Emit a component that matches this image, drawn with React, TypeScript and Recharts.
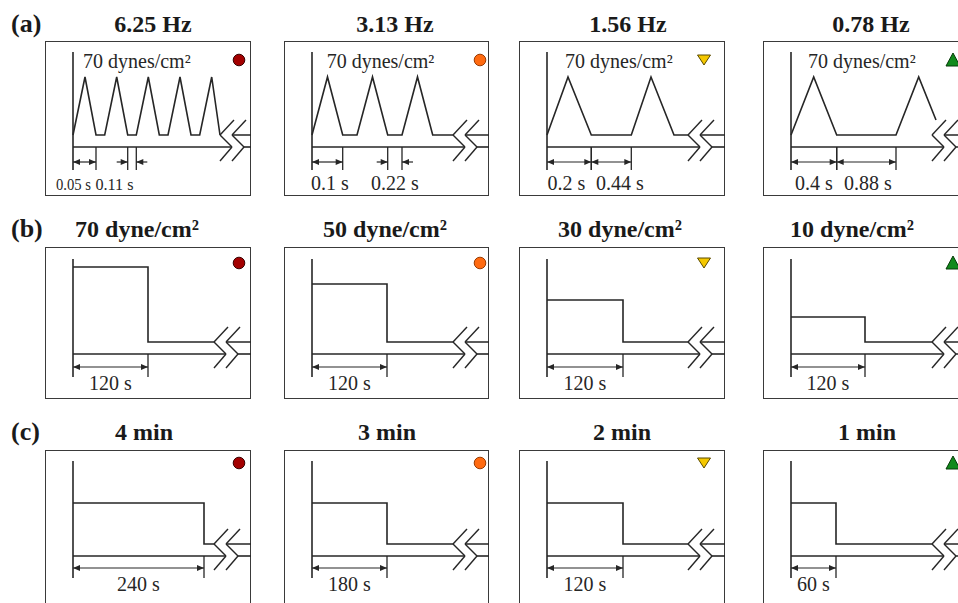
import React from 'react';
import { LineChart, Line, XAxis, YAxis, ReferenceLine, ReferenceDot } from 'recharts';

const FONT = '"Liberation Serif", "Times New Roman", Times, serif';
const INK = '#262626';

// ---------- text ----------
const rowLabels = ['(a)', '(b)', '(c)'];
const titlesA = ['6.25 Hz', '3.13 Hz', '1.56 Hz', '0.78 Hz'];
const titlesB = ['70 dyne/cm²', '50 dyne/cm²', '30 dyne/cm²', '10 dyne/cm²'];
const titlesC = ['4 min', '3 min', '2 min', '1 min'];
const noteA = '70 dynes/cm²';

// ---------- series (schematic time units, schematic stress units) ----------
type Pt = { t: number; v: number | null };
const waveA1: Pt[] = [
  { t: 0, v: 12 }, { t: 12, v: 70 }, { t: 23, v: 12 }, { t: 31.7, v: 12 },
  { t: 43.7, v: 70 }, { t: 54.7, v: 12 }, { t: 63.3, v: 12 }, { t: 75.3, v: 70 },
  { t: 86.3, v: 12 }, { t: 95, v: 12 }, { t: 107, v: 70 }, { t: 118, v: 12 },
  { t: 126.7, v: 12 }, { t: 138.7, v: 70 }, { t: 147, v: 12 }, { t: 153, v: null },
  { t: 159, v: 12 }, { t: 178, v: 12 },
];
const waveA2: Pt[] = [
  { t: 0, v: 12 }, { t: 15.5, v: 70 }, { t: 30.7, v: 12 }, { t: 45, v: 12 },
  { t: 60.5, v: 70 }, { t: 75.7, v: 12 }, { t: 90, v: 12 }, { t: 105.5, v: 70 },
  { t: 120.7, v: 12 }, { t: 141, v: 12 }, { t: 147, v: null }, { t: 153, v: 12 }, { t: 178, v: 12 },
];
const waveA3: Pt[] = [
  { t: 0, v: 12 }, { t: 21, v: 70 }, { t: 44.3, v: 12 }, { t: 84.3, v: 12 },
  { t: 104, v: 70 }, { t: 127, v: 12 }, { t: 141, v: 12 }, { t: 147, v: null },
  { t: 153, v: 12 }, { t: 178, v: 12 },
];
const waveA4: Pt[] = [
  { t: 0, v: 12 }, { t: 22.7, v: 70 }, { t: 45.7, v: 12 }, { t: 105, v: 12 },
  { t: 127.7, v: 70 }, { t: 145, v: 27 }, { t: 148, v: null }, { t: 153, v: 12 }, { t: 178, v: 12 },
];

const levelsB = [87, 70, 54, 37];
const stepB = [75, 75, 76, 74];
const levelC = 53;
const stepC = [131, 75, 76, 45];
const REST = 12;

const mkStep = (level: number, step: number): Pt[] => [
  { t: 0, v: level }, { t: step, v: level }, { t: step, v: REST }, { t: 141, v: REST },
  { t: 147, v: null }, { t: 153, v: REST }, { t: 178, v: REST },
];

// dimension annotations
type Dim = { a: number; b: number; out?: boolean };
const dimsA: Dim[][] = [
  [{ a: 0, b: 23 }, { a: 54.7, b: 63.3, out: true }],
  [{ a: 0, b: 30.7 }, { a: 75.7, b: 90, out: true }],
  [{ a: 0, b: 44.3 }, { a: 44.3, b: 84.3 }],
  [{ a: 0, b: 45.7 }, { a: 45.7, b: 105 }],
];
type Lab = { text: string; x: number; len?: number; size?: number };
const labelsA: Lab[][] = [
  [{ text: '0.05 s', x: 0.5, len: 35, size: 17 }, { text: '0.11 s', x: 41.5, len: 38, size: 17 }],
  [{ text: '0.1 s', x: 18 }, { text: '0.22 s', x: 83 }],
  [{ text: '0.2 s', x: 19.5 }, { text: '0.44 s', x: 73 }],
  [{ text: '0.4 s', x: 23 }, { text: '0.88 s', x: 77 }],
];
const labelsB = ['120 s', '120 s', '120 s', '120 s'];
const labelsC = ['240 s', '180 s', '120 s', '60 s'];

// ---------- layout ----------
const BOX_X = [45, 284, 519, 763];
const BOX_W = [206, 205, 206, 206];
const ROW_Y = [41, 247, 450];
const ROW_H = [155, 152, 156];
const AXIS_Y = [106, 107, 106];
const AX = 28;
const TITLE_X = [
  [153, 395, 628, 871],
  [137, 385, 620, 852],
  [144, 387, 622, 867],
];
const TITLE_BASE = [32, 237, 440];
const NOTE_X = [10, 14.7, 18, 17];
const MARK_X = [166, 168, 157, 162];
const MARK_Y = [87, 91, 93];

type MarkKind = 'circle' | 'tri' | 'tridown';
const MARKS: { kind: MarkKind; fill: string; stroke: string }[] = [
  { kind: 'circle', fill: '#a30000', stroke: '#3a0000' },
  { kind: 'circle', fill: '#ff6a10', stroke: '#9a3a00' },
  { kind: 'tridown', fill: '#f5c800', stroke: '#5a4a00' },
  { kind: 'tri', fill: '#118a1c', stroke: '#063a08' },
];

const seg = (x1: number, y1: number, x2: number, y2: number, key: string, w = 1.6) => (
  <ReferenceLine
    key={key}
    segment={[{ x: x1, y: y1 }, { x: x2, y: y2 }]}
    stroke={INK}
    strokeWidth={w}
    ifOverflow="visible"
  />
);

const head = (x: number, y: number, dir: number, key: string) => (
  <ReferenceDot
    key={key}
    x={x}
    y={y}
    r={0}
    ifOverflow="visible"
    shape={(p: any) => (
      <path d={`M${p.cx},${p.cy} l${-dir * 7},-3 l0,6 z`} fill={INK} stroke="none" />
    )}
  />
);

const txt = (
  x: number,
  y: number,
  s: string,
  key: string,
  anchor: 'start' | 'middle' = 'middle',
  size = 20,
  len?: number
) => (
  <ReferenceDot
    key={key}
    x={x}
    y={y}
    r={0}
    ifOverflow="visible"
    shape={(p: any) => (
      <text
        x={p.cx}
        y={p.cy}
        textAnchor={anchor}
        fontFamily={FONT}
        fontSize={size}
        fill={INK}
        {...(len ? { textLength: len, lengthAdjust: 'spacingAndGlyphs' } : {})}
      >
        {s}
      </text>
    )}
  />
);

const marker = (x: number, y: number, m: (typeof MARKS)[number], key: string) => (
  <ReferenceDot
    key={key}
    x={x}
    y={y}
    r={0}
    ifOverflow="visible"
    shape={(p: any) => {
      const { cx, cy } = p;
      if (m.kind === 'circle')
        return <circle cx={cx} cy={cy} r={5.8} fill={m.fill} stroke={m.stroke} strokeWidth={1} />;
      if (m.kind === 'tridown')
        return (
          <path
            d={`M${cx - 6.5},${cy - 5} L${cx + 6.5},${cy - 5} L${cx},${cy + 5} Z`}
            fill={m.fill}
            stroke={m.stroke}
            strokeWidth={1}
          />
        );
      return (
        <path
          d={`M${cx - 7},${cy + 6} L${cx + 7},${cy + 6} L${cx},${cy - 7} Z`}
          fill={m.fill}
          stroke={m.stroke}
          strokeWidth={1}
        />
      );
    }}
  />
);

type PanelProps = {
  row: number;
  col: number;
  wave: Pt[];
  brk: number;
  dims: Dim[];
  labels: Lab[];
  dimY: number;
  tickBot: number;
  labelY: number;
  note?: boolean;
};

function Panel({ row, col, wave, brk, dims, labels, dimY, tickBot, labelY, note }: PanelProps) {
  const w = BOX_W[col];
  const h = ROW_H[row];
  const ay = AXIS_Y[row];
  const xEnd = w - AX;
  const els: React.ReactNode[] = [];
  // vertical axis
  els.push(seg(0, tickBot, 0, 95, 'vax'));
  // horizontal axis, broken
  els.push(seg(0, 0, brk + 12, 0, 'hax1'));
  els.push(seg(brk + 24, 0, xEnd, 0, 'hax2'));
  // break zigzags
  [brk, brk + 12].forEach((X, i) => {
    els.push(seg(X + 14, 27, X, 12, `z${i}a`, 1.4));
    els.push(seg(X, 12, X + 12, 0, `z${i}b`, 1.4));
    els.push(seg(X + 12, 0, X, -14, `z${i}c`, 1.4));
  });
  // dimensions
  dims.forEach((d, i) => {
    if (d.a !== 0) els.push(seg(d.a, 0, d.a, tickBot, `ta${i}`, 1.3));
    els.push(seg(d.b, 0, d.b, tickBot, `tb${i}`, 1.3));
    if (!d.out) {
      els.push(seg(d.a, dimY, d.b, dimY, `dl${i}`, 1.2));
      els.push(head(d.a, dimY, -1, `ha${i}`));
      els.push(head(d.b, dimY, 1, `hb${i}`));
    } else {
      els.push(seg(d.a - 11, dimY, d.a, dimY, `dla${i}`, 1.2));
      els.push(seg(d.b, dimY, d.b + 11, dimY, `dlb${i}`, 1.2));
      els.push(head(d.a, dimY, 1, `ha${i}`));
      els.push(head(d.b, dimY, -1, `hb${i}`));
    }
  });
  labels.forEach((l, i) => els.push(txt(l.x, labelY, l.text, `lab${i}`, 'middle', l.size ?? 20, l.len)));
  if (note) els.push(txt(NOTE_X[col], 79, noteA, 'note', 'start', 20));
  els.push(marker(MARK_X[col], MARK_Y[row], MARKS[col], 'mk'));

  return (
    <div style={{ position: 'absolute', left: BOX_X[col], top: ROW_Y[row], width: w, height: h }}>
      <div
        style={{
          position: 'absolute',
          left: 0,
          top: 0,
          width: w,
          height: h,
          border: '1.6px solid #3a3a3a',
          boxSizing: 'border-box',
        }}
      />
      <div style={{ position: 'absolute', left: 0, top: 0 }}>
        <LineChart width={w} height={h} data={wave} margin={{ top: 0, right: 0, bottom: 0, left: 0 }}>
          <XAxis dataKey="t" type="number" domain={[-AX, xEnd]} hide allowDataOverflow />
          <YAxis type="number" domain={[ay - h, ay]} hide allowDataOverflow />
          {els}
          <Line
            dataKey="v"
            type="linear"
            stroke={INK}
            strokeWidth={1.6}
            dot={false}
            activeDot={false}
            connectNulls={false}
            isAnimationActive={false}
          />
        </LineChart>
      </div>
    </div>
  );
}

export default function App() {
  const wavesA = [waveA1, waveA2, waveA3, waveA4];
  const brkA = [147, 141, 141, 141];
  const titles = [titlesA, titlesB, titlesC];
  return (
    <div
      style={{
        position: 'absolute',
        left: 0,
        top: 0,
        width: 958,
        height: 603,
        overflow: 'hidden',
        background: '#fff',
      }}
    >
      <svg width={958} height={603} style={{ position: 'absolute', left: 0, top: 0 }}>
        {rowLabels.map((r, i) => (
          <text key={r} x={11} y={TITLE_BASE[i]} fontFamily={FONT} fontWeight="bold" fontSize={26} fill="#1a1a1a">
            {r}
          </text>
        ))}
        {titles.map((row, ri) =>
          row.map((t, ci) => (
            <text
              key={`${ri}-${ci}`}
              x={TITLE_X[ri][ci]}
              y={TITLE_BASE[ri]}
              textAnchor="middle"
              fontFamily={FONT}
              fontWeight="bold"
              fontSize={24}
              fill="#1a1a1a"
            >
              {t}
            </text>
          ))
        )}
      </svg>
      {wavesA.map((wv, c) => (
        <Panel
          key={`a${c}`}
          row={0}
          col={c}
          wave={wv}
          brk={brkA[c]}
          dims={dimsA[c]}
          labels={labelsA[c]}
          dimY={-15}
          tickBot={-23}
          labelY={-43}
          note
        />
      ))}
      {levelsB.map((lv, c) => (
        <Panel
          key={`b${c}`}
          row={1}
          col={c}
          wave={mkStep(lv, stepB[c])}
          brk={141}
          dims={[{ a: 0, b: stepB[c] }]}
          labels={[{ text: labelsB[c], x: stepB[c] / 2 }]}
          dimY={-13}
          tickBot={-23}
          labelY={-36}
        />
      ))}
      {stepC.map((st, c) => (
        <Panel
          key={`c${c}`}
          row={2}
          col={c}
          wave={mkStep(levelC, st)}
          brk={141}
          dims={[{ a: 0, b: st }]}
          labels={[{ text: labelsC[c], x: st / 2 }]}
          dimY={-12}
          tickBot={-22}
          labelY={-35}
        />
      ))}
    </div>
  );
}
